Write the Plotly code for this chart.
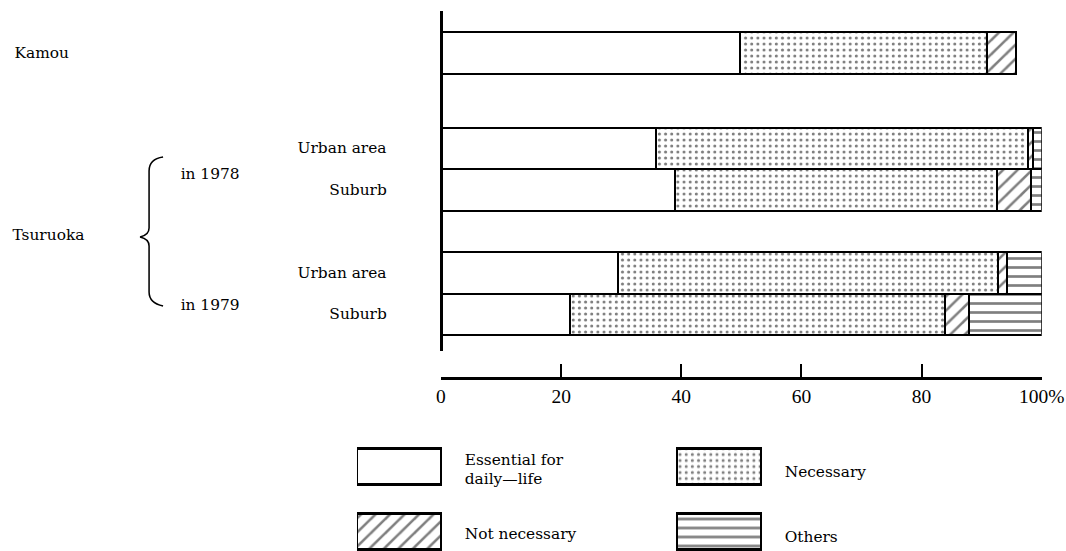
import plotly.graph_objects as go

W, H = 1066, 551

# ---------------- data ----------------
groups = ["Kamou", "Urban area (1978)", "Suburb (1978)", "Urban area (1979)", "Suburb (1979)"]
row_labels = ["Kamou", "Urban area", "Suburb", "Urban area", "Suburb"]
essential = [49.8, 35.9, 38.9, 29.5, 21.5]
necessary = [41.0, 61.8, 53.7, 63.2, 62.3]
not_necessary = [4.9, 0.8, 5.6, 1.6, 4.2]
others = [0.0, 1.5, 1.8, 5.7, 12.0]

series_names = ["Essential for daily\u2014life", "Necessary", "Not necessary", "Others"]
legend_texts = ["Essential for<br>daily\u2014life", "Necessary", "Not necessary", "Others"]
tick_values = [0, 20, 40, 60, 80, 100]
tick_labels = ["0", "20", "40", "60", "80", "100%"]

# ---------------- layout helpers (positions / styles) ----------------
slots = [0, 2.3, 3.3, 5.3, 6.3]
legend_cols = [0, 1, 0, 1]
legend_rows = [0, 0, 1, 1]
patterns = [
    dict(shape="", fgcolor="black", bgcolor="white"),
    dict(shape=".", fgcolor="black", bgcolor="white", size=6, solidity=0.2),
    dict(shape="/", fgcolor="black", bgcolor="white", size=10, solidity=0.25),
    dict(shape="-", fgcolor="black", bgcolor="white", size=9, solidity=0.3),
]


def px(x):
    return x / W


def py(y):
    return 1 - y / H


SERIF = "DejaVu Serif"
TICKFONT = "Liberation Serif"

fig = go.Figure()

values = [essential, necessary, not_necessary, others]
for name, vals, pat in zip(series_names, values, patterns):
    fig.add_trace(go.Bar(
        x=vals, y=slots, orientation="h", name=name, width=1.0,
        marker=dict(color="white", line=dict(color="black", width=2), pattern=pat),
        showlegend=False, xaxis="x", yaxis="y",
    ))

for name, pat, c, r in zip(series_names, patterns, legend_cols, legend_rows):
    fig.add_trace(go.Bar(
        x=[84 / 320], base=[c], y=[r], orientation="h", width=36 / 65,
        marker=dict(color="white", line=dict(color="black", width=2.2), pattern=pat),
        showlegend=False, xaxis="x2", yaxis="y2", name=name,
    ))

annotations = []
for i, (lab, s) in enumerate(zip(row_labels, slots)):
    if i == 0:
        annotations.append(dict(text=lab, xref="paper", yref="y", x=px(12), y=s,
                                xanchor="left", yanchor="middle", showarrow=False,
                                font=dict(family=SERIF, size=15, color="black")))
    else:
        annotations.append(dict(text=lab, xref="paper", yref="y", x=px(389), y=s,
                                xanchor="right", yanchor="middle", showarrow=False,
                                font=dict(family=SERIF, size=15, color="black")))

for txt, xx, yy in [("Tsuruoka", 10, 235), ("in 1978", 179, 174), ("in 1979", 179, 305)]:
    annotations.append(dict(text=txt, xref="paper", yref="paper", x=px(xx), y=py(yy),
                            xanchor="left", yanchor="middle", showarrow=False,
                            font=dict(family=SERIF, size=15, color="black")))

legend_yshift = [-4, -6, -3, -6]
for t, c, r, ys in zip(legend_texts, legend_cols, legend_rows, legend_yshift):
    annotations.append(dict(text=t, xref="x2", yref="y2", x=c + 0.33, y=r, yshift=ys,
                            xanchor="left", yanchor="middle", align="left", showarrow=False,
                            font=dict(family=SERIF, size=15, color="black")))

path = (
    f"M {px(163)},{py(157)} "
    f"Q {px(149)},{py(159)} {px(149)},{py(171)} "
    f"L {px(149)},{py(228)} "
    f"Q {px(149)},{py(235)} {px(140)},{py(237)} "
    f"Q {px(149)},{py(239)} {px(149)},{py(246)} "
    f"L {px(149)},{py(292)} "
    f"Q {px(149)},{py(303)} {px(163)},{py(306)}"
)
shapes = [dict(type="path", path=path, xref="paper", yref="paper",
               line=dict(color="black", width=1.5))]

fig.update_layout(
    width=W, height=H,
    margin=dict(l=0, r=0, t=0, b=0),
    paper_bgcolor="white", plot_bgcolor="white",
    barmode="stack", bargap=0,
    showlegend=False,
    xaxis=dict(domain=[px(441), px(1042)], range=[0, 100], anchor="free", position=py(378),
               showline=True, linecolor="black", linewidth=2.5,
               ticks="inside", ticklen=13, tickwidth=2, tickcolor="black",
               tickvals=tick_values, ticktext=tick_labels,
               tickfont=dict(family=TICKFONT, size=19, color="black"),
               showgrid=False, zeroline=False, fixedrange=True),
    yaxis=dict(domain=[py(351), py(11)], range=[7.18, -1.01], anchor="free", position=px(441),
               showline=True, linecolor="black", linewidth=2.5,
               showticklabels=False, ticks="", showgrid=False, zeroline=False, fixedrange=True),
    xaxis2=dict(domain=[px(357), px(997)], range=[0, 2], visible=False, anchor="y2", fixedrange=True),
    yaxis2=dict(domain=[0, py(433.5)], range=[(H - 466) / 65, -0.5], visible=False, anchor="x2",
                fixedrange=True),
    annotations=annotations,
    shapes=shapes,
)

fig.write_html(
    "out.html",
    config={"displayModeBar": False},
    post_script=(
        "(function(){"
        "var d=document.documentElement,b=document.body;"
        "[d,b].forEach(function(e){e.style.margin='0';e.style.padding='0';e.style.overflow='hidden';});"
        "var gd=document.getElementById('{plot_id}');"
        "gd.style.position='fixed';gd.style.left='0';gd.style.top='0';"
        "gd.style.transformOrigin='0 0';"
        "gd.style.transform='translateX(-5px) scaleX(1.0256)';"
        "})();"
    ),
)
